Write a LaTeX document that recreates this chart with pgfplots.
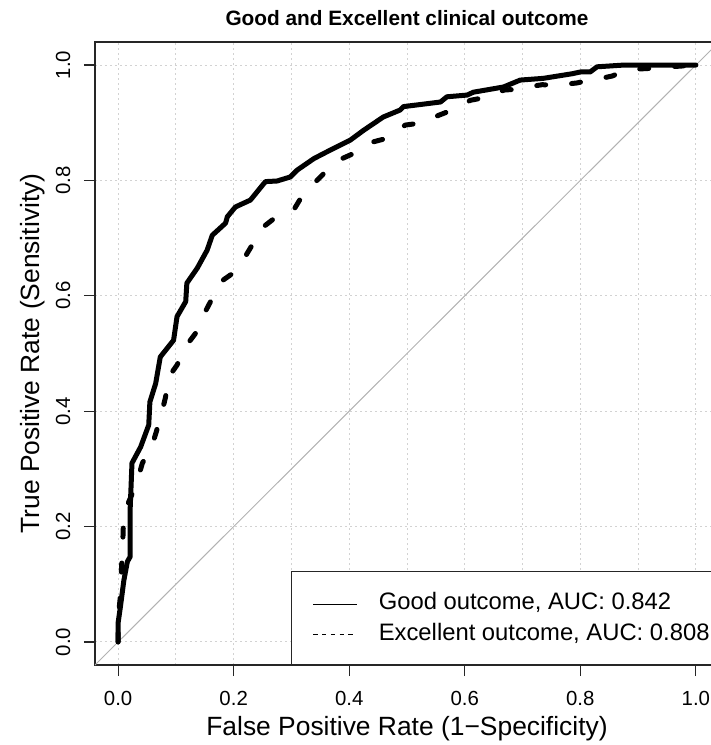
\documentclass[border=0pt]{standalone}
\usepackage{fontspec}
\setmainfont{Liberation Sans}
\usepackage{pgfplots}
\pgfplotsset{compat=1.18}
\begin{document}
\begin{tikzpicture}
\begin{axis}[
  at={(0,0)}, anchor=south west,
  scale only axis, width=312pt, height=311.5pt,
  xmin=-0.04, xmax=1.04, ymin=-0.04, ymax=1.04,
  axis line style={line width=0.6pt, black!85},
  xtick={0,0.2,0.4,0.6,0.8,1}, ytick={0,0.2,0.4,0.6,0.8,1},
  xticklabels={0.0,0.2,0.4,0.6,0.8,1.0},
  yticklabels={0.0,0.2,0.4,0.6,0.8,1.0},
  minor x tick num=1,
  xtick pos=left, ytick pos=left,
  tick align=outside, major tick length=5.5pt, minor tick length=0pt,
  tick style={line width=0.6pt, black!85},
  xmajorgrids, xminorgrids, ymajorgrids,
  grid style={gray!35, line width=0.5pt, dash pattern=on 1pt off 1.5pt},
  minor grid style={gray!35, line width=0.5pt, dash pattern=on 1pt off 1.5pt},
  ticklabel style={font=\fontsize{10.2}{12}\selectfont},
  xticklabel style={anchor=north, inner sep=0pt},
  xticklabel shift=7.35pt,
  yticklabel style={rotate=90, anchor=south, inner sep=0pt},
  yticklabel shift=6.65pt,
  title={Good and Excellent clinical outcome},
  title style={font=\fontsize{10.4}{12}\selectfont\bfseries, at={(axis description cs:0.5,1.0257)}, anchor=base, inner sep=0pt, yshift=-6pt},
  xlabel={False Positive Rate (1\textminus Specificity)},
  xlabel style={font=\fontsize{13.2}{15}\selectfont, at={(axis description cs:0.5,-0.1133)}, anchor=base, inner sep=0pt},
  ylabel={True Positive Rate (Sensitivity)},
  ylabel style={font=\fontsize{13.2}{15}\selectfont, at={(axis description cs:-0.0893,0.5)}, anchor=base, inner sep=0pt},
  legend style={
    at={(axis cs:0.2996,-0.04)}, anchor=south west,
    draw=black!85, line width=0.6pt, fill=white,
    inner xsep=10.4pt, inner ysep=10.7pt,
    row sep=4.9pt, column sep=10.8pt,
    font=\fontsize{11.9}{14}\selectfont,
    nodes={inner sep=0pt},
  },
  legend cell align=left,
  legend image code/.code={\draw[#1, line width=0.6pt, line cap=butt] (0pt,-0.8pt) -- (21.7pt,-0.8pt);},
]
\addplot[gray!60, line width=0.5pt, forget plot] coordinates {(-0.04,-0.04) (1.04,1.04)};
\addlegendimage{black, solid}
\addlegendentry{Good outcome, AUC: 0.842}
\addlegendimage{black, dash pattern=on 2.2pt off 2.2pt}
\addlegendentry{Excellent outcome, AUC: 0.808}
\addplot[black, line width=2.5pt, line join=round, line cap=round, forget plot] coordinates {
(0,0) (0,0.033) (0.004,0.061) (0.01,0.107) (0.016,0.139) (0.021,0.148)
(0.021,0.234) (0.024,0.310) (0.039,0.338) (0.053,0.376) (0.055,0.416)
(0.065,0.448) (0.073,0.494) (0.096,0.523) (0.102,0.564) (0.117,0.590)
(0.119,0.622) (0.137,0.648) (0.154,0.679) (0.163,0.705) (0.186,0.726)
(0.189,0.737) (0.203,0.754) (0.229,0.766) (0.255,0.798) (0.275,0.799)
(0.298,0.806) (0.310,0.818) (0.339,0.838) (0.368,0.853) (0.402,0.870)
(0.425,0.887) (0.459,0.910) (0.488,0.922) (0.494,0.928) (0.558,0.936)
(0.569,0.945) (0.604,0.948) (0.615,0.953) (0.667,0.962) (0.696,0.974)
(0.736,0.977) (0.786,0.985) (0.8,0.988) (0.817,0.988) (0.829,0.997)
(0.875,1.0) (1,1)
};
\addplot[black, line width=2.5pt, line join=round, line cap=round, dash pattern=on 4.5pt off 13pt, forget plot] coordinates {
(0,0) (0.0,0.04) (0.004,0.08) (0.006,0.13) (0.008,0.17) (0.009,0.20)
(0.015,0.235) (0.028,0.265) (0.036,0.289) (0.042,0.310) (0.059,0.341)
(0.066,0.364) (0.076,0.399) (0.082,0.424) (0.088,0.46) (0.102,0.48)
(0.119,0.515) (0.134,0.535) (0.148,0.567) (0.160,0.590) (0.170,0.612)
(0.177,0.624) (0.197,0.638) (0.212,0.652) (0.220,0.668) (0.232,0.688)
(0.240,0.705) (0.252,0.720) (0.270,0.734) (0.290,0.742) (0.304,0.749)
(0.316,0.769) (0.330,0.785) (0.342,0.798) (0.356,0.812) (0.372,0.830)
(0.388,0.838) (0.408,0.847) (0.425,0.857) (0.442,0.867) (0.465,0.873)
(0.482,0.885) (0.497,0.896) (0.520,0.899) (0.538,0.905) (0.555,0.913)
(0.578,0.922) (0.595,0.932) (0.61,0.939) (0.636,0.944) (0.652,0.952)
(0.670,0.957) (0.696,0.958) (0.715,0.963) (0.734,0.966) (0.757,0.965)
(0.776,0.967) (0.794,0.969) (0.817,0.974) (0.836,0.977) (0.855,0.981)
(0.878,0.99) (0.897,0.993) (0.916,0.994) (0.942,0.996) (0.97,0.998) (1,1)
};
\end{axis}
\pgfresetboundingbox
\path[use as bounding box] (-47.5pt,-40pt) rectangle (308pt,332.5pt);
\end{tikzpicture}
\end{document}
